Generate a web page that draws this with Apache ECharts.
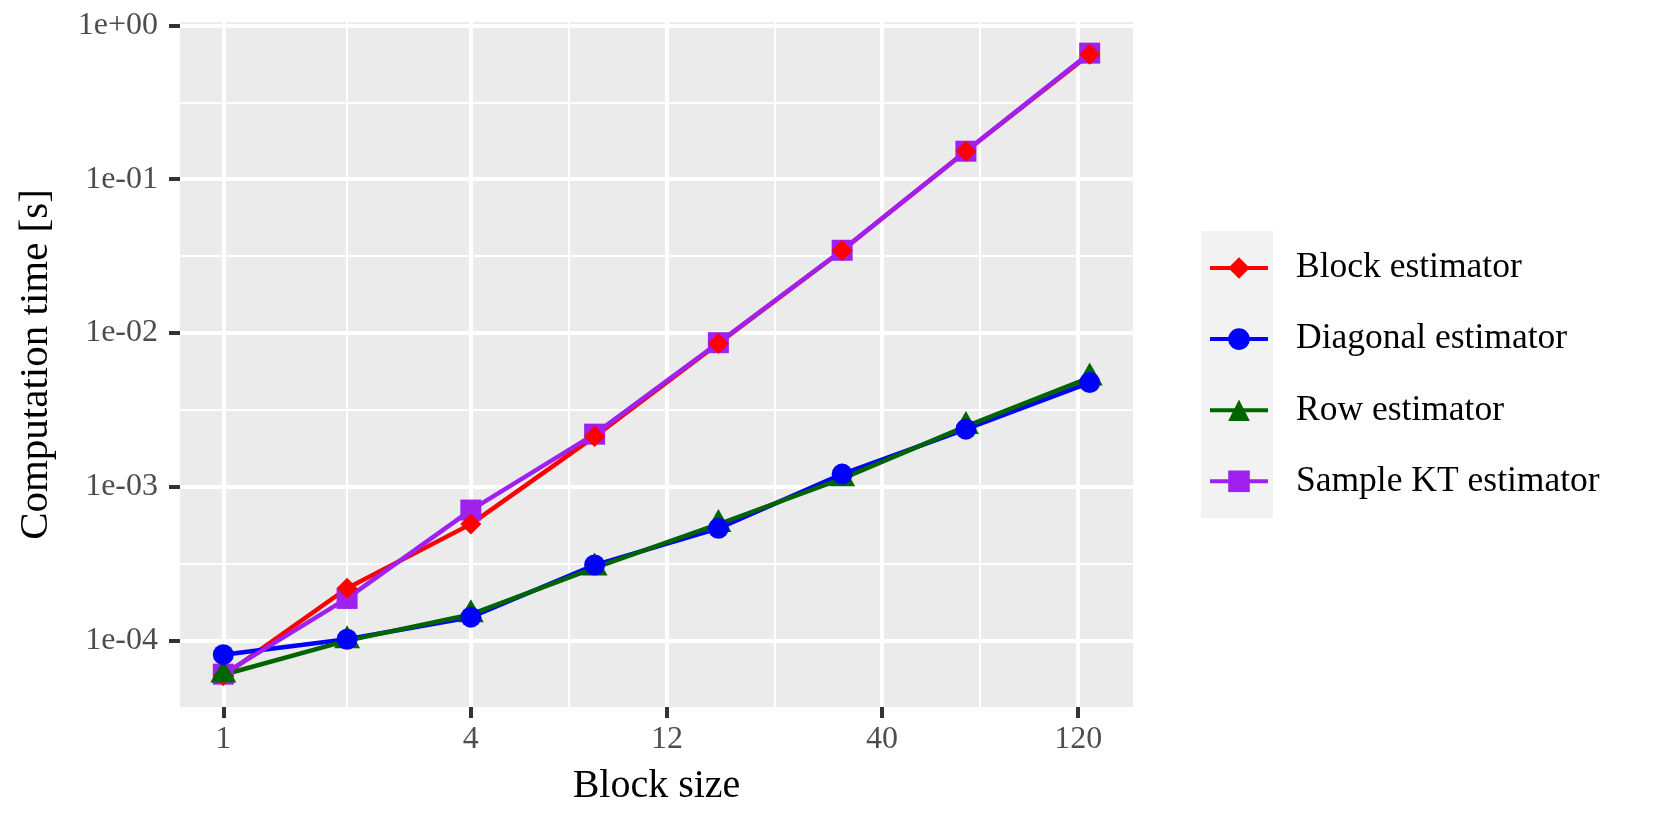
<!DOCTYPE html>
<html>
<head>
<meta charset="utf-8">
<script src="https://cdn.jsdelivr.net/npm/echarts@6/dist/echarts.min.js"></script>
<style>
html,body{margin:0;padding:0;background:#ffffff;}
#chart{width:1653px;height:826px;}
</style>
</head>
<body>
<div id="chart"></div>
<script>
// ---- data ----
const blockSizes = [1, 2, 4, 8, 16, 32, 64, 128];
const blockEstimator    = [5.9e-5, 2.19e-4, 5.72e-4, 2.12e-3, 8.56e-3, 0.0344, 0.1517, 0.650];
const diagonalEstimator = [8.1e-5, 1.02e-4, 1.42e-4, 3.10e-4, 5.37e-4, 1.21e-3, 2.37e-3, 4.76e-3];
const rowEstimator      = [6.0e-5, 1.00e-4, 1.48e-4, 2.97e-4, 5.71e-4, 1.13e-3, 2.47e-3, 5.12e-3];
const sampleKTEstimator = [6.05e-5, 1.88e-4, 7.06e-4, 2.20e-3, 8.65e-3, 0.0345, 0.152, 0.660];
const seriesNames = ['Block estimator', 'Diagonal estimator', 'Row estimator', 'Sample KT estimator'];

// ---- axis ticks ----
const xTickValues = [1, 4, 12, 40, 120];
const xTickLabels = ['1', '4', '12', '40', '120'];
const yTickValues = [1e-4, 1e-3, 1e-2, 1e-1, 1];
const yTickLabels = ['1e-04', '1e-03', '1e-02', '1e-01', '1e+00'];
const xAxisTitle = 'Block size';
const yAxisTitle = 'Computation time [s]';

// ---- styling ----
const FONT = 'Liberation Serif';
const seriesValues = [blockEstimator, diagonalEstimator, rowEstimator, sampleKTEstimator];
const seriesStyles = [
  {color: '#FF0000', symbol: 'diamond', size: 21, offset: [0, 0]},
  {color: '#0000FF', symbol: 'circle', size: 21, offset: [0, 0]},
  {color: '#006400', symbol: 'triangle', size: [26, 23], offset: [0, -3.8]},
  {color: '#A020F0', symbol: 'rect', size: 21, offset: [0, 0]}
];
const pointDrawOrder = [3, 0, 2, 1];

// log transforms (the chart uses log2 on x, log10 on y)
const lx = v => Math.log2(v);
const ly = v => Math.log10(v);

const xLogTicks = xTickValues.map(lx);
const yLogTicks = yTickValues.map(ly);
const midpoints = arr => arr.slice(1).map((v, i) => (v + arr[i]) / 2);
const xMinorTicks = midpoints(xLogTicks);
const yMinorTicks = midpoints(yLogTicks);

// ggplot-like 5% expansion of the data range
const xs = blockSizes.map(lx);
const allY = [].concat(...seriesValues).map(ly);
const xLo = Math.min(...xs), xHi = Math.max(...xs);
const yLo = Math.min(...allY), yHi = Math.max(...allY);
const xMin = xLo - 0.05 * (xHi - xLo), xMax = xHi + 0.05 * (xHi - xLo);
const yMin = yLo - 0.05 * (yHi - yLo), yMax = yHi + 0.05 * (yHi - yLo);

function nearestLabel(v, ticks, labels) {
  let best = 0;
  for (let i = 1; i < ticks.length; i++) {
    if (Math.abs(ticks[i] - v) < Math.abs(ticks[best] - v)) best = i;
  }
  return labels[best];
}

const pairs = vals => blockSizes.map((b, j) => [lx(b), ly(vals[j])]);

const lineSeries = seriesNames.map((name, i) => ({
  type: 'line',
  name: name,
  data: pairs(seriesValues[i]),
  showSymbol: false,
  symbol: seriesStyles[i].symbol,
  symbolSize: seriesStyles[i].size,
  color: seriesStyles[i].color,
  itemStyle: {color: seriesStyles[i].color},
  lineStyle: {color: seriesStyles[i].color, width: 4.5},
  z: 2,
  animation: false
}));

const pointSeries = pointDrawOrder.map(i => ({
  type: 'scatter',
  name: seriesNames[i],
  data: pairs(seriesValues[i]),
  symbol: seriesStyles[i].symbol,
  symbolSize: seriesStyles[i].size,
  symbolOffset: seriesStyles[i].offset,
  itemStyle: {color: seriesStyles[i].color, opacity: 1},
  z: 3,
  animation: false
}));

const chart = echarts.init(document.getElementById('chart'), null, {renderer: 'canvas'});
chart.setOption({
  animation: false,
  backgroundColor: '#FFFFFF',
  textStyle: {fontFamily: FONT},
  grid: {
    left: 180, top: 22, right: 520, bottom: 119,
    show: true, backgroundColor: '#EBEBEB', borderWidth: 0,
    containLabel: false, outerBoundsMode: 'none'
  },
  graphic: [{
    type: 'rect', left: 1201, top: 231, z: -1,
    shape: {width: 72, height: 287},
    style: {fill: '#F2F2F2'}, silent: true
  }],
  legend: {
    orient: 'vertical', left: 1208, top: 250, padding: 0,
    itemWidth: 58, itemHeight: 27, itemGap: 35.1,
    data: seriesNames, selectedMode: false, z: 10,
    lineStyle: {width: 4},
    textStyle: {fontFamily: FONT, fontSize: 35.5, color: '#000000', padding: [0, 0, 0, 23], lineHeight: 27}
  },
  xAxis: [{
    type: 'value', min: xMin, max: xMax, position: 'bottom',
    name: xAxisTitle, nameLocation: 'middle', nameGap: 59, nameMoveOverlap: false,
    nameTextStyle: {fontFamily: FONT, fontSize: 40, color: '#000000'},
    axisLine: {show: false, onZero: false},
    axisTick: {show: true, customValues: xLogTicks, length: 11, lineStyle: {color: '#333333', width: 4}},
    axisLabel: {show: true, customValues: xLogTicks, margin: 17, fontFamily: FONT, fontSize: 32, color: '#4D4D4D',
      formatter: v => nearestLabel(v, xLogTicks, xTickLabels)},
    splitLine: {show: true, lineStyle: {color: '#FFFFFF', width: 4}},
    minorSplitLine: {show: false}
  }, {
    type: 'value', min: xMin, max: xMax, gridIndex: 0, position: 'top',
    axisLine: {show: false, onZero: false},
    axisTick: {show: false, customValues: xMinorTicks},
    axisLabel: {show: false, customValues: xMinorTicks},
    splitLine: {show: true, lineStyle: {color: '#FFFFFF', width: 2}}
  }],
  yAxis: [{
    type: 'value', min: yMin, max: yMax, position: 'left',
    name: yAxisTitle, nameLocation: 'middle', nameGap: 123, nameMoveOverlap: false,
    nameTextStyle: {fontFamily: FONT, fontSize: 41, color: '#000000'},
    axisLine: {show: false, onZero: false},
    axisTick: {show: true, customValues: yLogTicks, length: 11, lineStyle: {color: '#333333', width: 4}},
    axisLabel: {show: true, customValues: yLogTicks, margin: 22, fontFamily: FONT, fontSize: 32, color: '#4D4D4D',
      formatter: v => nearestLabel(v, yLogTicks, yTickLabels)},
    splitLine: {show: true, lineStyle: {color: '#FFFFFF', width: 4}}
  }, {
    type: 'value', min: yMin, max: yMax, gridIndex: 0, position: 'right',
    axisLine: {show: false, onZero: false},
    axisTick: {show: false, customValues: yMinorTicks},
    axisLabel: {show: false, customValues: yMinorTicks},
    splitLine: {show: true, lineStyle: {color: '#FFFFFF', width: 2}}
  }],
  series: lineSeries.concat(pointSeries)
});
</script>
</body>
</html>
